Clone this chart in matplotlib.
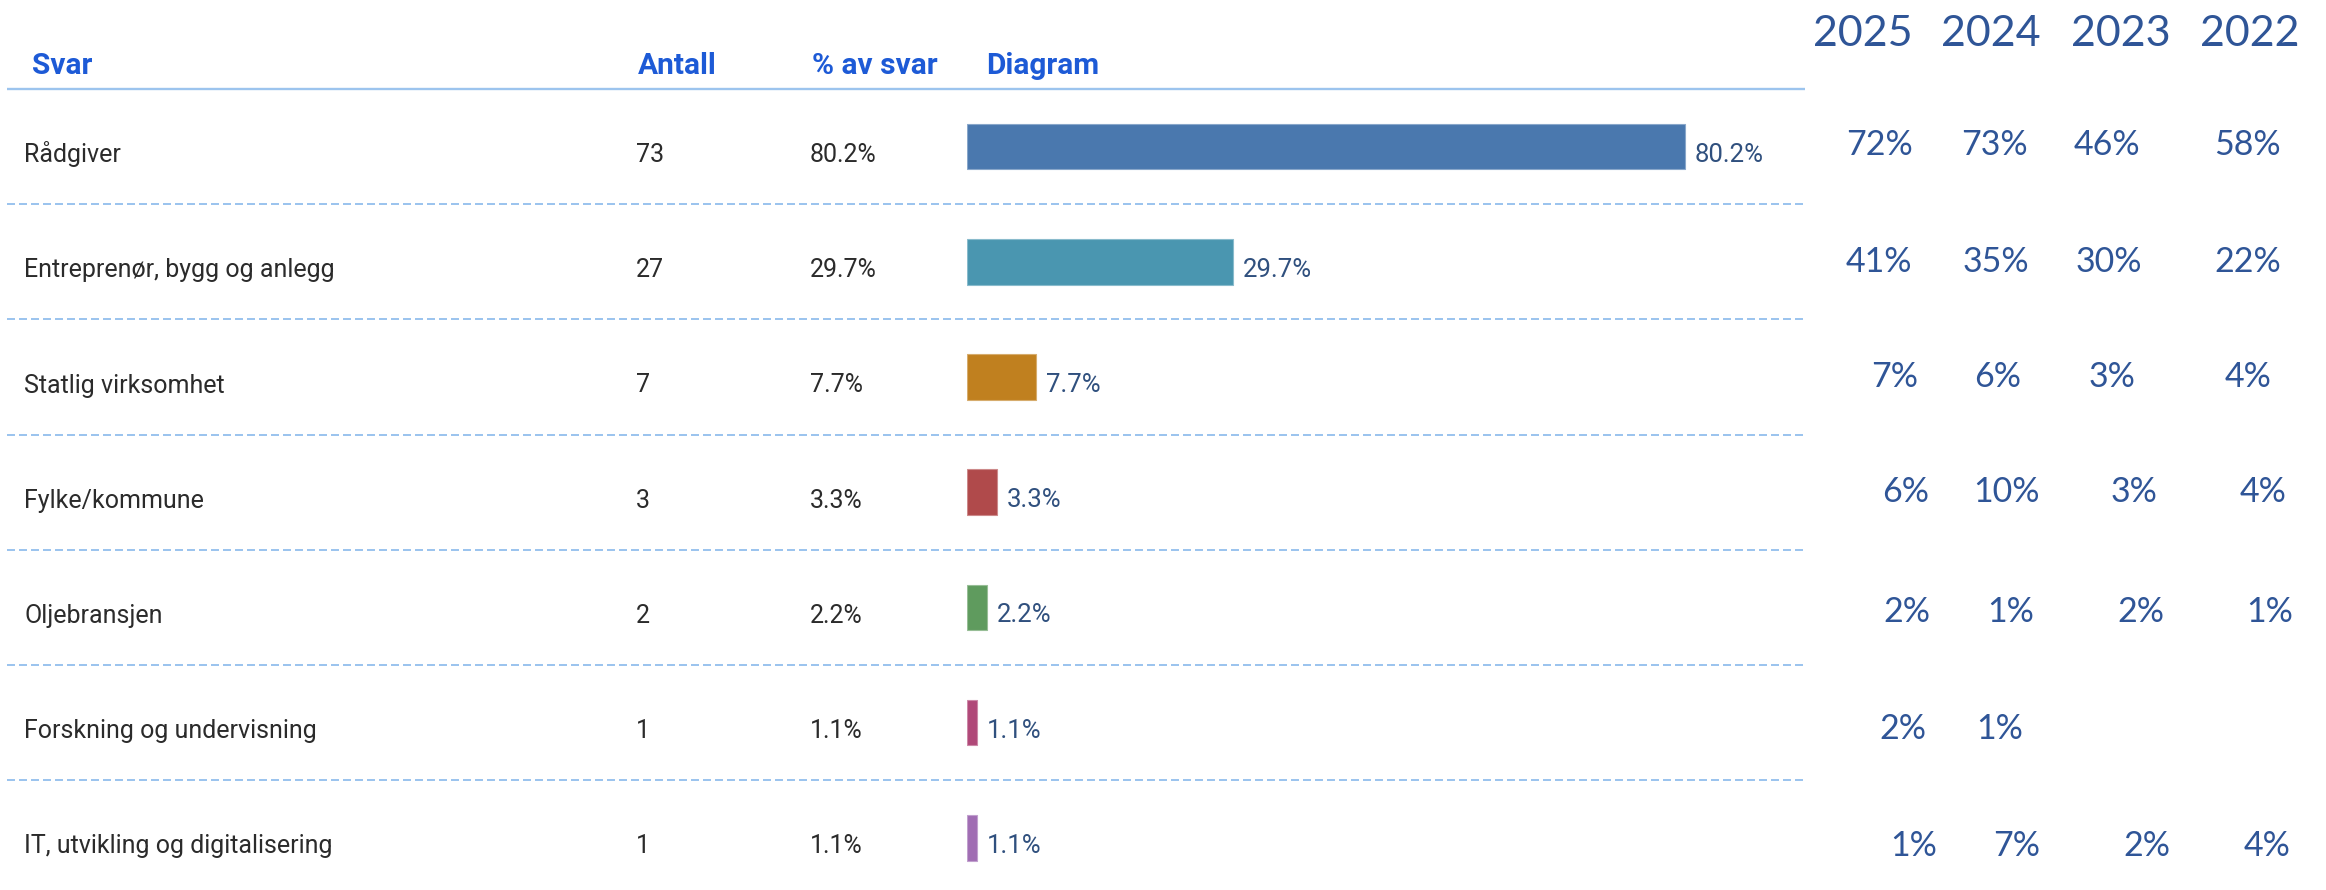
import matplotlib
matplotlib.use("Agg")
import matplotlib.pyplot as plt
import matplotlib.transforms as mtransforms
from matplotlib.colors import to_rgb

# ---------------- data ----------------
categories = ["Rådgiver", "Entreprenør, bygg og anlegg", "Statlig virksomhet",
              "Fylke/kommune", "Oljebransjen", "Forskning og undervisning",
              "IT, utvikling og digitalisering"]
counts = [73, 27, 7, 3, 2, 1, 1]
pcts = [80.2, 29.7, 7.7, 3.3, 2.2, 1.1, 1.1]
headers = ["Svar", "Antall", "% av svar", "Diagram"]

years = ["2025", "2024", "2023", "2022"]
v2025 = [72, 41, 7, 6, 2, 2, 1]
v2024 = [73, 35, 6, 10, 1, 1, 7]
v2023 = [46, 30, 3, 3, 2, None, 2]
v2022 = [58, 22, 4, 4, 1, None, 4]
year_values = [v2025, v2024, v2023, v2022]

# ---------------- style / layout ----------------
bar_colors = ["#4a78ae", "#4a96b0", "#c0801f", "#b04a4b", "#5f9b5e", "#b04878", "#a06db3"]
HEAD = "#1d5ad6"
BODY = "#2b2b2b"
LBL = "#30507e"
YR = "#2f5597"
LINE = "#9cc4ee"


def lighten(c, f=0.35):
    r, g, b = to_rgb(c)
    return (r + (1 - r) * f, g + (1 - g) * f, b + (1 - b) * f)


W, H = 2326, 890
fig = plt.figure(figsize=(W / 100, H / 100), dpi=100)
ax = fig.add_axes([0, 0, 1, 1])
ax.set_xlim(0, W)
ax.set_ylim(H, 0)
ax.axis("off")

top = 89.0
row_h = 115.2
n = len(categories)
row_c = [top + row_h * (i + 0.5) for i in range(n)]
x0, x1 = 7, 1805

# header line and separators
ax.plot([x0, x1], [top, top], color=LINE, lw=1.7, solid_capstyle="butt")
for i in range(1, n):
    y = top + row_h * i
    ax.plot([x0, x1], [y, y], color=LINE, lw=1.44, dashes=(4.0, 2.0))

# headers
head_x = [32, 638, 812, 986]
for hx, t in zip(head_x, headers):
    ax.text(hx, 74, t, fontsize=21.5, fontweight="bold", color=HEAD,
            family="Roboto", ha="left", va="baseline")

# body rows
for i in range(n):
    yb = row_c[i] + 15.5
    ax.text(24, yb, categories[i], fontsize=18, color=BODY, family="Roboto",
            ha="left", va="baseline")
    ax.text(636, yb, f"{counts[i]}", fontsize=18, color=BODY, family="Roboto",
            ha="left", va="baseline")
    ax.text(810, yb, f"{pcts[i]:.1f}%", fontsize=18, color=BODY, family="Roboto",
            ha="left", va="baseline")

# bars
bx0 = 967
px_per_pct = 8.95
bax = fig.add_axes([bx0 / W, (H - (top + row_h * n)) / H, (x1 - bx0) / W, row_h * n / H])
bax.set_xlim(0, (x1 - bx0) / px_per_pct)
bax.set_ylim(n - 0.5, -0.5)
bax.axis("off")
bars = bax.barh(range(n), pcts, height=0.395, color=bar_colors,
                edgecolor=[lighten(c) for c in bar_colors], linewidth=0.8)
off = mtransforms.ScaledTranslation(10 / 100, -15.0 / 100, fig.dpi_scale_trans)
for b, p in zip(bars, pcts):
    bax.text(b.get_width(), b.get_y() + b.get_height() / 2, f"{p:.1f}%",
             fontsize=18.5, color=LBL, family="Roboto", ha="left",
             va="baseline", transform=bax.transData + off)

# right-hand year table
year_x = [1863, 1991, 2121, 2250]
for yx, yt in zip(year_x, years):
    ax.text(yx, 46, yt, fontsize=31, color=YR, family="Lato", ha="center",
            va="baseline")

# per-cell placement (layout of the pasted text boxes)
cell_x = [
    [1879, 1994, 2107, 2247],
    [1879, 1996, 2109, 2248],
    [1895, 1998, 2112, 2248],
    [1906, 2006, 2134, 2263],
    [1907, 2011, 2141, 2270],
    [1903, 2000, 2141, 2270],
    [1914, 2017, 2147, 2267],
]
cell_yb = [155, 272, 387, 502, 622, 739, 856]
for c, vals in enumerate(year_values):
    for r, v in enumerate(vals):
        if v is None:
            continue
        ax.text(cell_x[r][c], cell_yb[r], f"{v}%", fontsize=24.5, color=YR,
                family="Lato", ha="center", va="baseline")

fig.savefig("out.png", dpi=100, facecolor="white")
